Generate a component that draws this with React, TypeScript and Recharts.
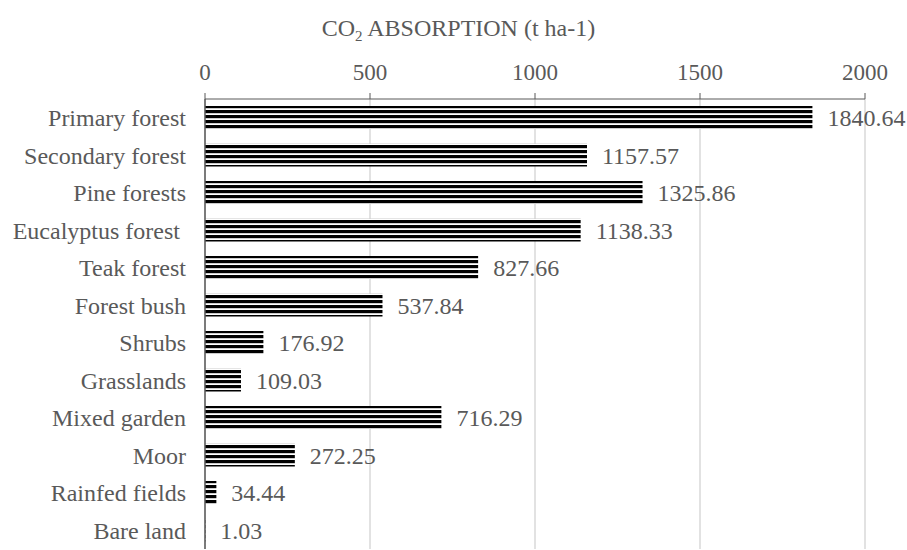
import { Bar, BarChart, CartesianGrid, LabelList, XAxis, YAxis } from "recharts";

const categories = [
  "Primary forest",
  "Secondary forest",
  "Pine forests",
  "Eucalyptus forest ",
  "Teak forest",
  "Forest bush",
  "Shrubs",
  "Grasslands",
  "Mixed garden",
  "Moor",
  "Rainfed fields",
  "Bare land",
];

const absorption = [
  1840.64, 1157.57, 1325.86, 1138.33, 827.66, 537.84, 176.92, 109.03, 716.29, 272.25, 34.44, 1.03,
];

const xTicks = [0, 500, 1000, 1500, 2000];

const data = categories.map((name, i) => ({ name, value: absorption[i] }));

const font = "'Liberation Serif', 'Times New Roman', serif";
const axisGray = "#595959";

export default function App() {
  return (
    <div style={{ position: "absolute", left: 0, top: 0, width: 907, height: 550, background: "#fff", fontFamily: font }}>
      <style>{`.recharts-wrapper text { font-family: 'Liberation Serif', 'Times New Roman', serif; white-space: pre; }`}</style>
      <div
        style={{
          position: "absolute",
          top: 15,
          left: 0,
          width: 917,
          textAlign: "center",
          fontSize: 24,
          color: axisGray,
        }}
      >
        CO<sub style={{ fontSize: 15, verticalAlign: "-5px", lineHeight: 0 }}>2</sub> ABSORPTION (t ha-1)
      </div>
      <BarChart
        width={907}
        height={550}
        data={data}
        layout="vertical"
        margin={{ top: 0, right: 42, bottom: 1, left: 0 }}
        barSize={23}
      >
        <defs>
          <pattern id="stripes" patternUnits="userSpaceOnUse" width="8" height="5">
            <rect x="0" y="0" width="8" height="5" fill="#ffffff" />
            <rect x="0" y="0" width="8" height="3.2" fill="#000000" />
          </pattern>
        </defs>
        <CartesianGrid horizontal={false} stroke="#d9d9d9" strokeWidth={1.5} />
        <XAxis
          type="number"
          orientation="top"
          domain={[0, 2000]}
          ticks={xTicks}
          height={99}
          tickSize={6}
          tickMargin={13}
          axisLine={{ stroke: axisGray }}
          tickLine={{ stroke: axisGray }}
          tick={{ fill: axisGray, fontSize: 23 }}
        />
        <YAxis
          type="category"
          dataKey="name"
          width={205}
          tickLine={false}
          tickMargin={13}
          axisLine={{ stroke: axisGray, strokeWidth: 1.5 }}
          tick={{ fill: axisGray, fontSize: 24 }}
          interval={0}
        />
        <Bar dataKey="value" fill="url(#stripes)" isAnimationActive={false}>
          <LabelList
            dataKey="value"
            position="right"
            offset={15}
            fill={axisGray}
            fontSize={24}
            formatter={(v: number) => v.toFixed(2)}
          />
        </Bar>
      </BarChart>
    </div>
  );
}
